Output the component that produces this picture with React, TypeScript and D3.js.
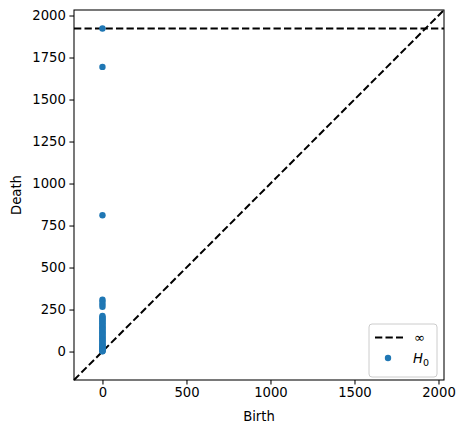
import React, { useRef, useEffect } from 'react';
import * as d3 from 'd3';

// H0 persistence pairs: birth is always 0, one class never dies
const births = [0, 0, 0, 0, 0, 0, 0, 0, 0, 0, 0, 0, 0, 0, 0, 0, 0, 0, 0, 0, 0, 0, 0, 0, 0, 0, 0, 0, 0, 0, 0, 0, 0, 0, 0, 0, 0, 0, 0, 0];
const deaths = [Infinity, 1694, 811, 308, 296, 281, 266, 212, 205, 198, 190, 183, 176, 168, 160, 152, 145, 137, 130, 122, 115, 108, 100, 93, 86, 79, 72, 65, 58, 51, 44, 38, 32, 26, 20, 15, 10, 6, 3, 1];
const xTicks = [0, 500, 1000, 1500, 2000];
const yTicks = [0, 250, 500, 750, 1000, 1250, 1500, 1750, 2000];

const FONT = 'DejaVu Sans, sans-serif';
const FS = '13.2px';

const App = () => {
  const svgRef = useRef<SVGSVGElement>(null);

  useEffect(() => {
    const width = 467;
    const height = 433;
    const margin = { top: 10, right: 23, bottom: 53, left: 74 };

    const svg = d3.select(svgRef.current);
    svg.selectAll('*').remove();

    // persim-style limits
    const finite = deaths.filter((d) => isFinite(d)).concat(births);
    const lo = d3.min(finite) as number;
    const hi = d3.max(finite) as number;
    const buffer = (hi - lo) / 5;
    const down = lo - buffer / 2;
    const up = hi + buffer;
    const infVal = down + (up - down) * 0.95;

    const x = d3.scaleLinear().domain([down, up]).range([margin.left, width - margin.right]);
    const y = d3.scaleLinear().domain([down, up]).range([height - margin.bottom, margin.top]);

    const g = svg.append('g');
    const dash = '7.3,3.2';

    g.append('line')
      .attr('x1', x(down)).attr('y1', y(down))
      .attr('x2', x(up)).attr('y2', y(up))
      .attr('stroke', '#000').attr('stroke-width', 2).attr('stroke-dasharray', dash);

    g.append('line')
      .attr('x1', x(down)).attr('y1', y(infVal))
      .attr('x2', x(up)).attr('y2', y(infVal))
      .attr('stroke', '#000').attr('stroke-width', 2).attr('stroke-dasharray', dash);

    const pts = births.map((b, i) => ({ b, d: isFinite(deaths[i]) ? deaths[i] : infVal }));
    g.selectAll('circle.pt')
      .data(pts)
      .enter()
      .append('circle')
      .attr('class', 'pt')
      .attr('cx', (d) => x(d.b))
      .attr('cy', (d) => y(d.d))
      .attr('r', 3.2)
      .attr('fill', '#1f77b4');

    // axes
    const xAxis = svg.append('g')
      .attr('transform', `translate(0,${height - margin.bottom})`)
      .call(d3.axisBottom(x).tickValues(xTicks).tickSize(4.6).tickPadding(3.5).tickFormat(d3.format('d')));
    const yAxis = svg.append('g')
      .attr('transform', `translate(${margin.left},0)`)
      .call(d3.axisLeft(y).tickValues(yTicks).tickSize(4.6).tickPadding(3.5).tickFormat(d3.format('d')));

    [xAxis, yAxis].forEach((ax) => {
      ax.select('.domain').remove();
      ax.selectAll('line').attr('stroke', '#000').attr('stroke-width', 1.05);
      ax.selectAll('text').attr('fill', '#000').style('font-family', FONT).style('font-size', FS);
    });

    svg.append('rect')
      .attr('x', margin.left).attr('y', margin.top)
      .attr('width', width - margin.left - margin.right)
      .attr('height', height - margin.top - margin.bottom)
      .attr('fill', 'none').attr('stroke', '#000').attr('stroke-width', 1.05);

    svg.append('text')
      .attr('x', (margin.left + width - margin.right) / 2).attr('y', 421)
      .attr('text-anchor', 'middle')
      .style('font-family', FONT).style('font-size', FS)
      .text('Birth');

    svg.append('text')
      .attr('transform', `translate(20.5,${(margin.top + height - margin.bottom) / 2}) rotate(-90)`)
      .attr('text-anchor', 'middle')
      .style('font-family', FONT).style('font-size', FS)
      .text('Death');

    // legend
    const lg = svg.append('g').attr('transform', 'translate(369,324)');
    lg.append('rect')
      .attr('width', 68).attr('height', 53).attr('rx', 3)
      .attr('fill', '#fff').attr('fill-opacity', 0.8)
      .attr('stroke', '#ccc').attr('stroke-width', 1);
    lg.append('line')
      .attr('x1', 6).attr('x2', 34).attr('y1', 13.5).attr('y2', 13.5)
      .attr('stroke', '#000').attr('stroke-width', 2).attr('stroke-dasharray', dash);
    lg.append('text')
      .attr('x', 45).attr('y', 18)
      .style('font-family', FONT).style('font-size', FS)
      .text('∞');
    lg.append('circle').attr('cx', 19).attr('cy', 34).attr('r', 3.2).attr('fill', '#1f77b4');
    const h = lg.append('text')
      .attr('x', 44).attr('y', 39)
      .style('font-family', FONT).style('font-size', FS);
    h.append('tspan').style('font-style', 'italic').text('H');
    h.append('tspan').attr('dy', 2.5).style('font-size', '9.5px').text('0');
  }, []);

  return <svg ref={svgRef} width={467} height={433} style={{ display: 'block', margin: '-8px' }} />;
};

export default App;
